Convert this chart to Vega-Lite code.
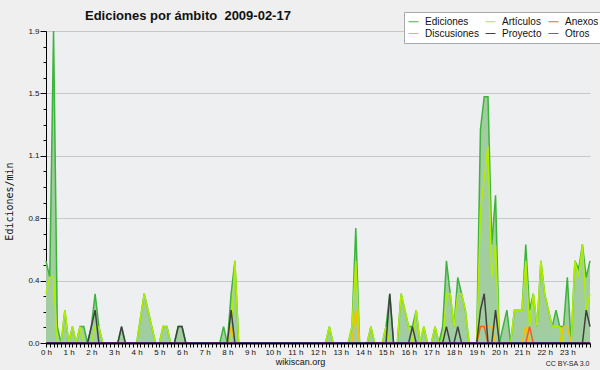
{
"$schema": "https://vega.github.io/schema/vega-lite/v6.json",
"width": 544, "height": 312,
"autosize": {"type": "none"},
"padding": {"left": 46, "top": 31, "right": 10, "bottom": 27},
"background": "#efefef",
"config": {"view": {"stroke": null, "fill": "#eeeff1"}},
"title": {"text": "Ediciones por ámbito\u00a0 2009-02-17", "anchor": "start", "frame": "group", "dx": 39, "offset": -11, "font": "Liberation Sans", "fontSize": 13, "fontWeight": "bold", "color": "#111111"},
"data": {"values": [
{"m":0,"Ediciones":0.5,"Artículos":0.3,"Discusiones":0,"Anexos":0,"Proyecto":0,"Otros":0},
{"m":10,"Ediciones":0.4,"Artículos":0.4,"Discusiones":0,"Anexos":0,"Proyecto":0,"Otros":0},
{"m":20,"Ediciones":1.9,"Artículos":0.4,"Discusiones":0,"Anexos":0,"Proyecto":0,"Otros":0},
{"m":30,"Ediciones":0.1,"Artículos":0,"Discusiones":0,"Anexos":0,"Proyecto":0,"Otros":0},
{"m":40,"Ediciones":0,"Artículos":0,"Discusiones":0,"Anexos":0,"Proyecto":0,"Otros":0},
{"m":50,"Ediciones":0.2,"Artículos":0.2,"Discusiones":0,"Anexos":0,"Proyecto":0,"Otros":0},
{"m":60,"Ediciones":0,"Artículos":0,"Discusiones":0,"Anexos":0,"Proyecto":0,"Otros":0},
{"m":70,"Ediciones":0.1,"Artículos":0.1,"Discusiones":0,"Anexos":0,"Proyecto":0,"Otros":0},
{"m":80,"Ediciones":0,"Artículos":0,"Discusiones":0,"Anexos":0,"Proyecto":0,"Otros":0},
{"m":90,"Ediciones":0.1,"Artículos":0.1,"Discusiones":0,"Anexos":0,"Proyecto":0,"Otros":0},
{"m":100,"Ediciones":0.1,"Artículos":0,"Discusiones":0,"Anexos":0,"Proyecto":0,"Otros":0},
{"m":110,"Ediciones":0,"Artículos":0,"Discusiones":0,"Anexos":0,"Proyecto":0,"Otros":0},
{"m":120,"Ediciones":0.1,"Artículos":0,"Discusiones":0,"Anexos":0,"Proyecto":0.1,"Otros":0},
{"m":130,"Ediciones":0.3,"Artículos":0.1,"Discusiones":0,"Anexos":0,"Proyecto":0.2,"Otros":0},
{"m":140,"Ediciones":0.1,"Artículos":0.1,"Discusiones":0,"Anexos":0,"Proyecto":0,"Otros":0},
{"m":150,"Ediciones":0,"Artículos":0,"Discusiones":0,"Anexos":0,"Proyecto":0,"Otros":0},
{"m":160,"Ediciones":0,"Artículos":0,"Discusiones":0,"Anexos":0,"Proyecto":0,"Otros":0},
{"m":170,"Ediciones":0,"Artículos":0,"Discusiones":0,"Anexos":0,"Proyecto":0,"Otros":0},
{"m":180,"Ediciones":0,"Artículos":0,"Discusiones":0,"Anexos":0,"Proyecto":0,"Otros":0},
{"m":190,"Ediciones":0,"Artículos":0,"Discusiones":0,"Anexos":0,"Proyecto":0,"Otros":0},
{"m":200,"Ediciones":0.1,"Artículos":0,"Discusiones":0,"Anexos":0,"Proyecto":0.1,"Otros":0},
{"m":210,"Ediciones":0,"Artículos":0,"Discusiones":0,"Anexos":0,"Proyecto":0,"Otros":0},
{"m":220,"Ediciones":0,"Artículos":0,"Discusiones":0,"Anexos":0,"Proyecto":0,"Otros":0},
{"m":230,"Ediciones":0,"Artículos":0,"Discusiones":0,"Anexos":0,"Proyecto":0,"Otros":0},
{"m":240,"Ediciones":0,"Artículos":0,"Discusiones":0,"Anexos":0,"Proyecto":0,"Otros":0},
{"m":250,"Ediciones":0.15,"Artículos":0.15,"Discusiones":0,"Anexos":0,"Proyecto":0,"Otros":0},
{"m":260,"Ediciones":0.3,"Artículos":0.3,"Discusiones":0,"Anexos":0,"Proyecto":0,"Otros":0},
{"m":270,"Ediciones":0.2,"Artículos":0.2,"Discusiones":0,"Anexos":0,"Proyecto":0,"Otros":0},
{"m":280,"Ediciones":0.1,"Artículos":0.1,"Discusiones":0,"Anexos":0,"Proyecto":0,"Otros":0},
{"m":290,"Ediciones":0,"Artículos":0,"Discusiones":0,"Anexos":0,"Proyecto":0,"Otros":0},
{"m":300,"Ediciones":0,"Artículos":0,"Discusiones":0,"Anexos":0,"Proyecto":0,"Otros":0},
{"m":310,"Ediciones":0.1,"Artículos":0.1,"Discusiones":0,"Anexos":0,"Proyecto":0,"Otros":0},
{"m":320,"Ediciones":0.1,"Artículos":0.1,"Discusiones":0,"Anexos":0,"Proyecto":0,"Otros":0},
{"m":330,"Ediciones":0,"Artículos":0,"Discusiones":0,"Anexos":0,"Proyecto":0,"Otros":0},
{"m":340,"Ediciones":0,"Artículos":0,"Discusiones":0,"Anexos":0,"Proyecto":0,"Otros":0},
{"m":350,"Ediciones":0.1,"Artículos":0,"Discusiones":0,"Anexos":0,"Proyecto":0.1,"Otros":0},
{"m":360,"Ediciones":0.1,"Artículos":0,"Discusiones":0,"Anexos":0,"Proyecto":0.1,"Otros":0},
{"m":370,"Ediciones":0,"Artículos":0,"Discusiones":0,"Anexos":0,"Proyecto":0,"Otros":0},
{"m":380,"Ediciones":0,"Artículos":0,"Discusiones":0,"Anexos":0,"Proyecto":0,"Otros":0},
{"m":390,"Ediciones":0,"Artículos":0,"Discusiones":0,"Anexos":0,"Proyecto":0,"Otros":0},
{"m":400,"Ediciones":0,"Artículos":0,"Discusiones":0,"Anexos":0,"Proyecto":0,"Otros":0},
{"m":410,"Ediciones":0,"Artículos":0,"Discusiones":0,"Anexos":0,"Proyecto":0,"Otros":0},
{"m":420,"Ediciones":0,"Artículos":0,"Discusiones":0,"Anexos":0,"Proyecto":0,"Otros":0},
{"m":430,"Ediciones":0,"Artículos":0,"Discusiones":0,"Anexos":0,"Proyecto":0,"Otros":0},
{"m":440,"Ediciones":0,"Artículos":0,"Discusiones":0,"Anexos":0,"Proyecto":0,"Otros":0},
{"m":450,"Ediciones":0,"Artículos":0,"Discusiones":0,"Anexos":0,"Proyecto":0,"Otros":0},
{"m":460,"Ediciones":0,"Artículos":0,"Discusiones":0,"Anexos":0,"Proyecto":0,"Otros":0},
{"m":470,"Ediciones":0.1,"Artículos":0,"Discusiones":0,"Anexos":0,"Proyecto":0,"Otros":0},
{"m":480,"Ediciones":0,"Artículos":0,"Discusiones":0,"Anexos":0,"Proyecto":0,"Otros":0},
{"m":490,"Ediciones":0.3,"Artículos":0,"Discusiones":0.1,"Anexos":0,"Proyecto":0.2,"Otros":0},
{"m":500,"Ediciones":0.5,"Artículos":0.5,"Discusiones":0,"Anexos":0,"Proyecto":0,"Otros":0},
{"m":510,"Ediciones":0,"Artículos":0,"Discusiones":0,"Anexos":0,"Proyecto":0,"Otros":0},
{"m":520,"Ediciones":0,"Artículos":0,"Discusiones":0,"Anexos":0,"Proyecto":0,"Otros":0},
{"m":530,"Ediciones":0,"Artículos":0,"Discusiones":0,"Anexos":0,"Proyecto":0,"Otros":0},
{"m":540,"Ediciones":0,"Artículos":0,"Discusiones":0,"Anexos":0,"Proyecto":0,"Otros":0},
{"m":550,"Ediciones":0,"Artículos":0,"Discusiones":0,"Anexos":0,"Proyecto":0,"Otros":0},
{"m":560,"Ediciones":0,"Artículos":0,"Discusiones":0,"Anexos":0,"Proyecto":0,"Otros":0},
{"m":570,"Ediciones":0,"Artículos":0,"Discusiones":0,"Anexos":0,"Proyecto":0,"Otros":0},
{"m":580,"Ediciones":0,"Artículos":0,"Discusiones":0,"Anexos":0,"Proyecto":0,"Otros":0},
{"m":590,"Ediciones":0,"Artículos":0,"Discusiones":0,"Anexos":0,"Proyecto":0,"Otros":0},
{"m":600,"Ediciones":0,"Artículos":0,"Discusiones":0,"Anexos":0,"Proyecto":0,"Otros":0},
{"m":610,"Ediciones":0,"Artículos":0,"Discusiones":0,"Anexos":0,"Proyecto":0,"Otros":0},
{"m":620,"Ediciones":0,"Artículos":0,"Discusiones":0,"Anexos":0,"Proyecto":0,"Otros":0},
{"m":630,"Ediciones":0,"Artículos":0,"Discusiones":0,"Anexos":0,"Proyecto":0,"Otros":0},
{"m":640,"Ediciones":0,"Artículos":0,"Discusiones":0,"Anexos":0,"Proyecto":0,"Otros":0},
{"m":650,"Ediciones":0,"Artículos":0,"Discusiones":0,"Anexos":0,"Proyecto":0,"Otros":0},
{"m":660,"Ediciones":0,"Artículos":0,"Discusiones":0,"Anexos":0,"Proyecto":0,"Otros":0},
{"m":670,"Ediciones":0,"Artículos":0,"Discusiones":0,"Anexos":0,"Proyecto":0,"Otros":0},
{"m":680,"Ediciones":0,"Artículos":0,"Discusiones":0,"Anexos":0,"Proyecto":0,"Otros":0},
{"m":690,"Ediciones":0,"Artículos":0,"Discusiones":0,"Anexos":0,"Proyecto":0,"Otros":0},
{"m":700,"Ediciones":0,"Artículos":0,"Discusiones":0,"Anexos":0,"Proyecto":0,"Otros":0},
{"m":710,"Ediciones":0,"Artículos":0,"Discusiones":0,"Anexos":0,"Proyecto":0,"Otros":0},
{"m":720,"Ediciones":0,"Artículos":0,"Discusiones":0,"Anexos":0,"Proyecto":0,"Otros":0},
{"m":730,"Ediciones":0,"Artículos":0,"Discusiones":0,"Anexos":0,"Proyecto":0,"Otros":0},
{"m":740,"Ediciones":0,"Artículos":0,"Discusiones":0,"Anexos":0,"Proyecto":0,"Otros":0},
{"m":750,"Ediciones":0.1,"Artículos":0.1,"Discusiones":0,"Anexos":0,"Proyecto":0,"Otros":0},
{"m":760,"Ediciones":0,"Artículos":0,"Discusiones":0,"Anexos":0,"Proyecto":0,"Otros":0},
{"m":770,"Ediciones":0,"Artículos":0,"Discusiones":0,"Anexos":0,"Proyecto":0,"Otros":0},
{"m":780,"Ediciones":0,"Artículos":0,"Discusiones":0,"Anexos":0,"Proyecto":0,"Otros":0},
{"m":790,"Ediciones":0,"Artículos":0,"Discusiones":0,"Anexos":0,"Proyecto":0,"Otros":0},
{"m":800,"Ediciones":0,"Artículos":0,"Discusiones":0,"Anexos":0,"Proyecto":0,"Otros":0},
{"m":810,"Ediciones":0.1,"Artículos":0.1,"Discusiones":0,"Anexos":0,"Proyecto":0,"Otros":0},
{"m":820,"Ediciones":0.7,"Artículos":0.5,"Discusiones":0.2,"Anexos":0,"Proyecto":0,"Otros":0},
{"m":830,"Ediciones":0,"Artículos":0,"Discusiones":0,"Anexos":0,"Proyecto":0,"Otros":0},
{"m":840,"Ediciones":0,"Artículos":0,"Discusiones":0,"Anexos":0,"Proyecto":0,"Otros":0},
{"m":850,"Ediciones":0,"Artículos":0,"Discusiones":0,"Anexos":0,"Proyecto":0,"Otros":0},
{"m":860,"Ediciones":0.1,"Artículos":0.1,"Discusiones":0,"Anexos":0,"Proyecto":0,"Otros":0},
{"m":870,"Ediciones":0,"Artículos":0,"Discusiones":0,"Anexos":0,"Proyecto":0,"Otros":0},
{"m":880,"Ediciones":0,"Artículos":0,"Discusiones":0,"Anexos":0,"Proyecto":0,"Otros":0},
{"m":890,"Ediciones":0,"Artículos":0,"Discusiones":0,"Anexos":0,"Proyecto":0,"Otros":0},
{"m":900,"Ediciones":0.1,"Artículos":0.1,"Discusiones":0,"Anexos":0,"Proyecto":0,"Otros":0},
{"m":910,"Ediciones":0.3,"Artículos":0,"Discusiones":0,"Anexos":0,"Proyecto":0.3,"Otros":0},
{"m":920,"Ediciones":0,"Artículos":0,"Discusiones":0,"Anexos":0,"Proyecto":0,"Otros":0},
{"m":930,"Ediciones":0,"Artículos":0,"Discusiones":0,"Anexos":0,"Proyecto":0,"Otros":0},
{"m":940,"Ediciones":0.3,"Artículos":0.3,"Discusiones":0,"Anexos":0,"Proyecto":0,"Otros":0},
{"m":950,"Ediciones":0.2,"Artículos":0.2,"Discusiones":0,"Anexos":0,"Proyecto":0,"Otros":0},
{"m":960,"Ediciones":0.1,"Artículos":0.1,"Discusiones":0,"Anexos":0,"Proyecto":0,"Otros":0},
{"m":970,"Ediciones":0.1,"Artículos":0,"Discusiones":0,"Anexos":0,"Proyecto":0.1,"Otros":0},
{"m":980,"Ediciones":0.2,"Artículos":0.2,"Discusiones":0,"Anexos":0,"Proyecto":0,"Otros":0},
{"m":990,"Ediciones":0,"Artículos":0,"Discusiones":0,"Anexos":0,"Proyecto":0,"Otros":0},
{"m":1000,"Ediciones":0.1,"Artículos":0.1,"Discusiones":0,"Anexos":0,"Proyecto":0,"Otros":0},
{"m":1010,"Ediciones":0,"Artículos":0,"Discusiones":0,"Anexos":0,"Proyecto":0,"Otros":0},
{"m":1020,"Ediciones":0,"Artículos":0,"Discusiones":0,"Anexos":0,"Proyecto":0,"Otros":0},
{"m":1030,"Ediciones":0.1,"Artículos":0.1,"Discusiones":0,"Anexos":0,"Proyecto":0,"Otros":0},
{"m":1040,"Ediciones":0,"Artículos":0,"Discusiones":0,"Anexos":0,"Proyecto":0,"Otros":0},
{"m":1050,"Ediciones":0.1,"Artículos":0,"Discusiones":0,"Anexos":0,"Proyecto":0,"Otros":0},
{"m":1060,"Ediciones":0.5,"Artículos":0.3,"Discusiones":0,"Anexos":0,"Proyecto":0.1,"Otros":0},
{"m":1070,"Ediciones":0.3,"Artículos":0.3,"Discusiones":0,"Anexos":0,"Proyecto":0,"Otros":0},
{"m":1080,"Ediciones":0.1,"Artículos":0.1,"Discusiones":0,"Anexos":0,"Proyecto":0,"Otros":0},
{"m":1090,"Ediciones":0.4,"Artículos":0.3,"Discusiones":0,"Anexos":0,"Proyecto":0.1,"Otros":0},
{"m":1100,"Ediciones":0.3,"Artículos":0.3,"Discusiones":0,"Anexos":0,"Proyecto":0,"Otros":0},
{"m":1110,"Ediciones":0.2,"Artículos":0.2,"Discusiones":0,"Anexos":0,"Proyecto":0,"Otros":0},
{"m":1120,"Ediciones":0,"Artículos":0,"Discusiones":0,"Anexos":0,"Proyecto":0,"Otros":0},
{"m":1130,"Ediciones":0,"Artículos":0,"Discusiones":0,"Anexos":0,"Proyecto":0,"Otros":0},
{"m":1140,"Ediciones":0,"Artículos":0,"Discusiones":0,"Anexos":0,"Proyecto":0,"Otros":0},
{"m":1150,"Ediciones":1.3,"Artículos":0.8,"Discusiones":0.1,"Anexos":0.1,"Proyecto":0.2,"Otros":0},
{"m":1160,"Ediciones":1.5,"Artículos":1.0,"Discusiones":0.1,"Anexos":0.1,"Proyecto":0.3,"Otros":0},
{"m":1170,"Ediciones":1.5,"Artículos":1.2,"Discusiones":0.1,"Anexos":0,"Proyecto":0,"Otros":0},
{"m":1180,"Ediciones":0.6,"Artículos":0.4,"Discusiones":0.1,"Anexos":0,"Proyecto":0,"Otros":0},
{"m":1190,"Ediciones":0.9,"Artículos":0.6,"Discusiones":0,"Anexos":0,"Proyecto":0.2,"Otros":0},
{"m":1200,"Ediciones":0,"Artículos":0,"Discusiones":0,"Anexos":0,"Proyecto":0,"Otros":0},
{"m":1210,"Ediciones":0.1,"Artículos":0,"Discusiones":0,"Anexos":0,"Proyecto":0,"Otros":0},
{"m":1220,"Ediciones":0.2,"Artículos":0,"Discusiones":0,"Anexos":0,"Proyecto":0,"Otros":0},
{"m":1230,"Ediciones":0,"Artículos":0,"Discusiones":0,"Anexos":0,"Proyecto":0,"Otros":0},
{"m":1240,"Ediciones":0.2,"Artículos":0.2,"Discusiones":0,"Anexos":0,"Proyecto":0,"Otros":0},
{"m":1250,"Ediciones":0.2,"Artículos":0.2,"Discusiones":0,"Anexos":0,"Proyecto":0,"Otros":0},
{"m":1260,"Ediciones":0.2,"Artículos":0.2,"Discusiones":0,"Anexos":0,"Proyecto":0,"Otros":0},
{"m":1270,"Ediciones":0.6,"Artículos":0.5,"Discusiones":0.1,"Anexos":0,"Proyecto":0,"Otros":0},
{"m":1280,"Ediciones":0.2,"Artículos":0.1,"Discusiones":0,"Anexos":0.1,"Proyecto":0,"Otros":0},
{"m":1290,"Ediciones":0.3,"Artículos":0.3,"Discusiones":0,"Anexos":0,"Proyecto":0,"Otros":0},
{"m":1300,"Ediciones":0.1,"Artículos":0.1,"Discusiones":0,"Anexos":0,"Proyecto":0,"Otros":0},
{"m":1310,"Ediciones":0.5,"Artículos":0.5,"Discusiones":0,"Anexos":0,"Proyecto":0,"Otros":0},
{"m":1320,"Ediciones":0.3,"Artículos":0.3,"Discusiones":0,"Anexos":0,"Proyecto":0,"Otros":0},
{"m":1330,"Ediciones":0.2,"Artículos":0.2,"Discusiones":0,"Anexos":0,"Proyecto":0,"Otros":0},
{"m":1340,"Ediciones":0.1,"Artículos":0.1,"Discusiones":0,"Anexos":0,"Proyecto":0,"Otros":0},
{"m":1350,"Ediciones":0.2,"Artículos":0.1,"Discusiones":0,"Anexos":0,"Proyecto":0,"Otros":0},
{"m":1360,"Ediciones":0.1,"Artículos":0.1,"Discusiones":0,"Anexos":0,"Proyecto":0,"Otros":0},
{"m":1370,"Ediciones":0.1,"Artículos":0,"Discusiones":0.1,"Anexos":0,"Proyecto":0,"Otros":0},
{"m":1380,"Ediciones":0.4,"Artículos":0,"Discusiones":0.1,"Anexos":0,"Proyecto":0,"Otros":0},
{"m":1390,"Ediciones":0,"Artículos":0,"Discusiones":0,"Anexos":0,"Proyecto":0,"Otros":0},
{"m":1400,"Ediciones":0.5,"Artículos":0.5,"Discusiones":0,"Anexos":0,"Proyecto":0,"Otros":0},
{"m":1410,"Ediciones":0.45,"Artículos":0.4,"Discusiones":0,"Anexos":0,"Proyecto":0,"Otros":0},
{"m":1420,"Ediciones":0.6,"Artículos":0.6,"Discusiones":0,"Anexos":0,"Proyecto":0,"Otros":0},
{"m":1430,"Ediciones":0.4,"Artículos":0.2,"Discusiones":0,"Anexos":0,"Proyecto":0.2,"Otros":0},
{"m":1440,"Ediciones":0.5,"Artículos":0.3,"Discusiones":0,"Anexos":0,"Proyecto":0.1,"Otros":0}
]},
"layer": [
{"mark": {"type": "area", "color": "#a2cda0"},
 "encoding": {
  "x": {"field": "m", "type": "quantitative", "scale": {"domain": [0, 1440], "nice": false, "zero": false},
   "axis": {"orient": "bottom", "zindex": 2, "values": [0,10,20,30,40,50,60,70,80,90,100,110,120,130,140,150,160,170,180,190,200,210,220,230,240,250,260,270,280,290,300,310,320,330,340,350,360,370,380,390,400,410,420,430,440,450,460,470,480,490,500,510,520,530,540,550,560,570,580,590,600,610,620,630,640,650,660,670,680,690,700,710,720,730,740,750,760,770,780,790,800,810,820,830,840,850,860,870,880,890,900,910,920,930,940,950,960,970,980,990,1000,1010,1020,1030,1040,1050,1060,1070,1080,1090,1100,1110,1120,1130,1140,1150,1160,1170,1180,1190,1200,1210,1220,1230,1240,1250,1260,1270,1280,1290,1300,1310,1320,1330,1340,1350,1360,1370,1380,1390,1400,1410,1420,1430,1440],
    "labelExpr": "datum.value % 60 === 0 && datum.value < 1440 ? (datum.value / 60) + ' h' : ''",
    "labelOverlap": false, "labelFlush": false, "labelFont": "Liberation Sans", "labelFontSize": 8, "labelColor": "#111111", "labelPadding": 1,
    "tickSize": 4, "tickColor": "#000000", "domainColor": "#000000", "domainWidth": 2, "grid": false,
    "title": "wikiscan.org", "titleFont": "Liberation Sans", "titleFontSize": 9, "titleFontWeight": "normal", "titleColor": "#111111",
    "titleX": 254, "titleY": 21, "titleAlign": "center", "titleBaseline": "alphabetic"}},
  "y": {"field": "Ediciones", "type": "quantitative", "scale": {"domain": [0, 1.9], "nice": false},
   "axis": {"orient": "left", "values": [0, 0.38, 0.76, 1.14, 1.52, 1.9], "format": ".1f",
    "labelFont": "Liberation Sans", "labelFontSize": 8, "labelColor": "#111111", "labelPadding": 1,
    "tickSize": 6, "tickColor": "#000000", "domainColor": "#000000", "grid": true, "gridColor": "#c8c8c8",
    "title": "Ediciones/min", "titleFont": "DejaVu Sans Mono", "titleFontSize": 10, "titleFontWeight": "normal", "titleColor": "#111111",
    "titleX": -34, "titleY": 170, "titleAlign": "center", "titleBaseline": "alphabetic"}}
 }},
{"transform": [{"fold": ["Ediciones", "Artículos", "Discusiones", "Anexos", "Proyecto", "Otros"], "as": ["serie", "v"]}],
 "mark": {"type": "line", "strokeWidth": 1.5},
 "encoding": {
  "x": {"field": "m", "type": "quantitative",
   "axis": {"orient": "bottom", "domain": false, "ticks": false, "labels": false, "grid": false,
    "title": "CC BY-SA 3.0", "titleFont": "Liberation Sans", "titleFontSize": 7, "titleFontWeight": "normal", "titleColor": "#222222",
    "titleX": 543, "titleY": 22, "titleAlign": "right", "titleBaseline": "alphabetic"}},
  "y": {"field": "v", "type": "quantitative",
   "axis": {"orient": "left", "values": [0.095, 0.19, 0.285, 0.475, 0.57, 0.665, 0.855, 0.95, 1.045, 1.235, 1.33, 1.425, 1.615, 1.71, 1.805],
    "labels": false, "domain": false, "grid": false, "tickSize": 3, "tickColor": "#000000", "title": null}},
  "color": {"field": "serie", "type": "nominal",
   "scale": {"domain": ["Ediciones", "Artículos", "Anexos", "Discusiones", "Proyecto", "Otros"],
             "range": ["#3cb43c", "#b0ee00", "#f06020", "#f8c000", "#404040", "#9a40f0"]},
   "legend": {"orient": "none", "legendX": 358, "legendY": -19, "direction": "horizontal", "columns": 3, "title": null,
    "symbolType": "stroke", "symbolSize": 100, "symbolStrokeWidth": 1,
    "labelFont": "Liberation Sans", "labelFontSize": 10, "labelColor": "#111111",
    "fillColor": "#ffffff", "strokeColor": "#aaaaaa", "padding": 4, "rowPadding": 1, "columnPadding": 4, "labelOffset": 6}}
 }}
],
"resolve": {"axis": {"x": "independent", "y": "independent"}}
}
